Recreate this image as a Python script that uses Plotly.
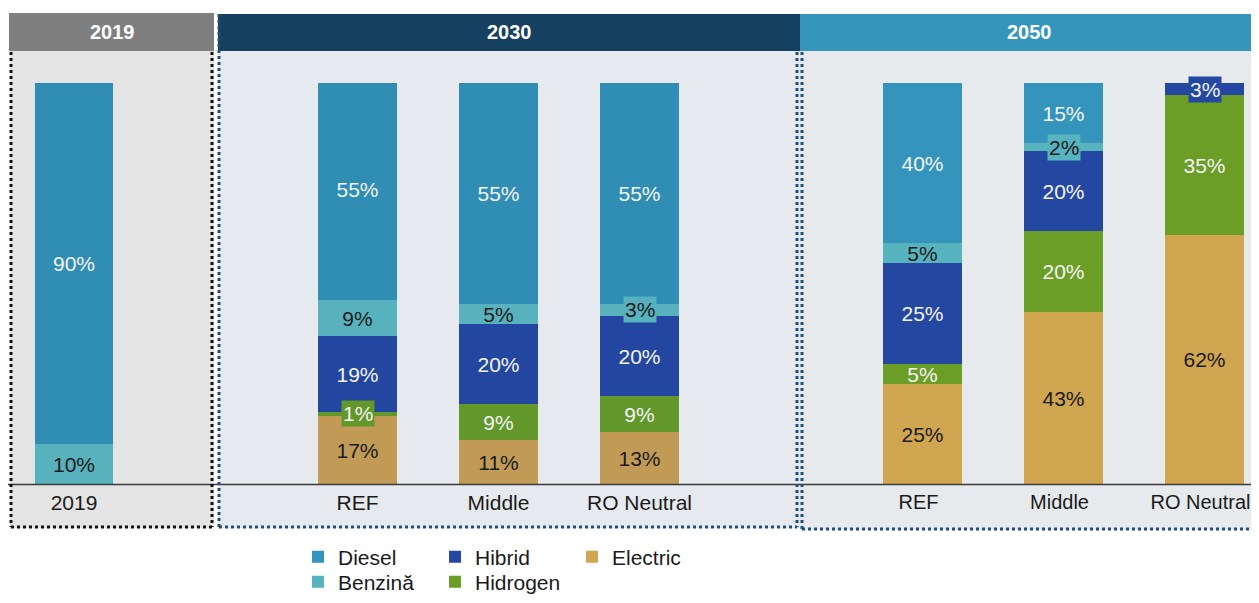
import plotly.graph_objects as go

# The page puts an 8px margin round the figure; size the figure so the whole page
# is exactly the 1259x603 window, and shift every pixel position by that margin.
OFF = 8
W, H = 1259 - 2 * OFF, 603 - 2 * OFF

# ---------------- data ----------------
cats_2019 = ["2019"]
cats_2030 = ["REF", "Middle", "RO Neutral"]
cats_2050 = ["REF", "Middle", "RO Neutral"]

electric_2019 = [0]
hidrogen_2019 = [0]
hibrid_2019 = [0]
benzina_2019 = [10]
diesel_2019 = [90]

electric_2030 = [17, 11, 13]
hidrogen_2030 = [1, 9, 9]
hibrid_2030 = [19, 20, 20]
benzina_2030 = [9, 5, 3]
diesel_2030 = [55, 55, 55]

electric_2050 = [25, 43, 62]
hidrogen_2050 = [5, 20, 35]
hibrid_2050 = [25, 20, 3]
benzina_2050 = [5, 2, 0]
diesel_2050 = [40, 15, 0]

series_names = ["Electric", "Hidrogen", "Hibrid", "Benzină", "Diesel"]  # stack order bottom -> top
panel_titles = ["2019", "2030", "2050"]

# ---------------- styles ----------------
FONT = "Liberation Sans, Arial, sans-serif"
DARK = "#1a1a1a"
WHITE = "#f4f4f4"
label_color = {"Electric": DARK, "Hidrogen": WHITE, "Hibrid": WHITE, "Benzină": DARK, "Diesel": WHITE}
colors_2030 = {"Electric": "#c19b55", "Hidrogen": "#62982a", "Hibrid": "#2347a1",
               "Benzină": "#57b2bd", "Diesel": "#308db4"}
colors_2050 = {"Electric": "#d0a550", "Hidrogen": "#6a9e26", "Hibrid": "#2447a2",
               "Benzină": "#57b3be", "Diesel": "#3594bb"}
boxed = {("2030", "REF", "Hidrogen"), ("2030", "RO Neutral", "Benzină"),
         ("2050", "Middle", "Benzină"), ("2050", "RO Neutral", "Hibrid")}
legend_of = {"Diesel": "legend", "Hibrid": "legend", "Electric": "legend",
             "Benzină": "legend2", "Hidrogen": "legend2"}

panels = [
    dict(title="2019", cats=cats_2019, xa="x", ya="y", colors=colors_2030,
         vals=dict(zip(series_names, [electric_2019, hidrogen_2019, hibrid_2019, benzina_2019, diesel_2019])),
         dom=(10, 214), c0=74.0, legend=False, tsize=21, tshift=0),
    dict(title="2030", cats=cats_2030, xa="x2", ya="y2", colors=colors_2030,
         vals=dict(zip(series_names, [electric_2030, hidrogen_2030, hibrid_2030, benzina_2030, diesel_2030])),
         dom=(218, 800), c0=357.5, legend=False, tsize=21, tshift=0),
    dict(title="2050", cats=cats_2050, xa="x3", ya="y3", colors=colors_2050,
         vals=dict(zip(series_names, [electric_2050, hidrogen_2050, hibrid_2050, benzina_2050, diesel_2050])),
         dom=(800, 1251), c0=922.5, legend=True, tsize=20, tshift=-4),
]

STEP = 141.0  # px between bar centres
BARW = 0.56

def px(x):
    return (x - OFF) / W

def py(y):
    return 1 - (y - OFF) / H

fig = go.Figure()
annotations = []

for p in panels:
    cum = [0] * len(p["cats"])
    for s in series_names:
        vals = p["vals"][s]
        if p["title"] == "2019" and sum(vals) == 0:
            continue
        texts = []
        for c, v in zip(p["cats"], vals):
            if v == 0 or (p["title"], c, s) in boxed:
                texts.append("")
            else:
                texts.append(f"{v}%")
        for i, (c, v) in enumerate(zip(p["cats"], vals)):
            if (p["title"], c, s) in boxed and v > 0:
                annotations.append(dict(
                    x=c, y=cum[i] + v / 2, xref=p["xa"], yref=p["ya"], text=f"{v}%",
                    showarrow=False, bgcolor=p["colors"][s], borderpad=1,
                    font=dict(family=FONT, size=21, color=label_color[s])))
            cum[i] += v
        fig.add_trace(go.Bar(
            x=p["cats"], y=vals, name=s, xaxis=p["xa"], yaxis=p["ya"],
            marker=dict(color=p["colors"][s], line=dict(width=0)),
            width=BARW, text=texts, textposition="inside", insidetextanchor="middle",
            textangle=0, textfont=dict(family=FONT, size=21, color=label_color[s]),
            showlegend=p["legend"], legend=legend_of[s], legendgroup=s,
            hoverinfo="skip",
        ))

yd = [py(484), py(83)]
for k, p in enumerate(panels):
    sfx = "" if k == 0 else str(k + 1)
    d0, d1 = p["dom"]
    rng = [(d0 - p["c0"]) / STEP, (d1 - p["c0"]) / STEP]
    fig.layout["xaxis" + sfx] = dict(
        showgrid=False, zeroline=False, showline=False, ticks="", fixedrange=True,
        tickfont=dict(family=FONT, size=p["tsize"], color=DARK),
        ticklabelstandoff=4, ticklabelshift=p["tshift"],
        domain=[max(0, px(d0)), min(1, px(d1))], range=rng,
        type="category", anchor="y" + sfx,
        categoryorder="array", categoryarray=p["cats"])
    fig.layout["yaxis" + sfx] = dict(domain=yd, range=[0, 100], visible=False,
                                     anchor="x" + sfx, fixedrange=True)

# ---------------- panel decoration ----------------
shapes = []
def rect(x0, y0, x1, y1, color, layer="below"):
    shapes.append(dict(type="rect", xref="paper", yref="paper", x0=px(x0), x1=px(x1),
                       y0=py(y1), y1=py(y0), fillcolor=color, line=dict(width=0), layer=layer))

def dline(x0, y0, x1, y1, color, width=3, dash="dot"):
    shapes.append(dict(type="line", xref="paper", yref="paper", x0=px(x0), x1=px(x1),
                       y0=py(y0), y1=py(y1), line=dict(color=color, width=width, dash=dash),
                       layer="above"))

# backgrounds
rect(10, 51, 214, 528, "#e4e4e4")
rect(218, 51, 800, 528, "#e6eaee")
rect(800, 51, 1259, 530, "#e6eaed")
# headers
rect(9, 13, 214, 51, "#7f7f7f", layer="above")
rect(218, 14, 800, 51, "#15405f", layer="above")
rect(800, 14, 1259, 51, "#3595bb", layer="above")
# baseline
dline(3, 484.5, 1259, 484.5, "#3a3a3a", width=1.5, dash="solid")
# dotted borders
dline(11, 52, 11, 527, "#111111")
dline(212, 52, 212, 527, "#111111")
dline(11, 527, 212, 527, "#111111")
dline(219, 14, 219, 527, "#1f4e79")
dline(797, 52, 797, 527, "#1f4e79")
dline(219, 527, 797, 527, "#1f4e79")
dline(802, 52, 802, 529, "#1f4e79")
dline(802, 529, 1259, 529, "#1f4e79")

for title, xc in zip(panel_titles, [112, 509, 1030]):
    annotations.append(dict(x=px(xc), y=py(32.5), xref="paper", yref="paper", text=f"<b>{title}</b>",
                            showarrow=False, xanchor="center", yanchor="middle",
                            font=dict(family=FONT, size=20, color="#ffffff")))

legend_common = dict(orientation="h", xanchor="left", yanchor="middle", traceorder="reversed",
                     font=dict(family=FONT, size=21, color=DARK), bgcolor="rgba(0,0,0,0)",
                     entrywidth=92, entrywidthmode="pixels", itemclick=False, itemdoubleclick=False,
                     tracegroupgap=0)

fig.update_layout(
    width=W, height=H, autosize=False,
    margin=dict(l=0, r=0, t=0, b=0, autoexpand=False),
    paper_bgcolor="#ffffff", plot_bgcolor="rgba(0,0,0,0)",
    barmode="stack", bargap=0,
    shapes=shapes, annotations=annotations,
    uniformtext=dict(minsize=21, mode="show"),
    legend=dict(legend_common, x=px(298), y=py(557)),
    legend2=dict(legend_common, x=px(298), y=py(582)),
    font=dict(family=FONT),
)

fig.write_html("out.html")
